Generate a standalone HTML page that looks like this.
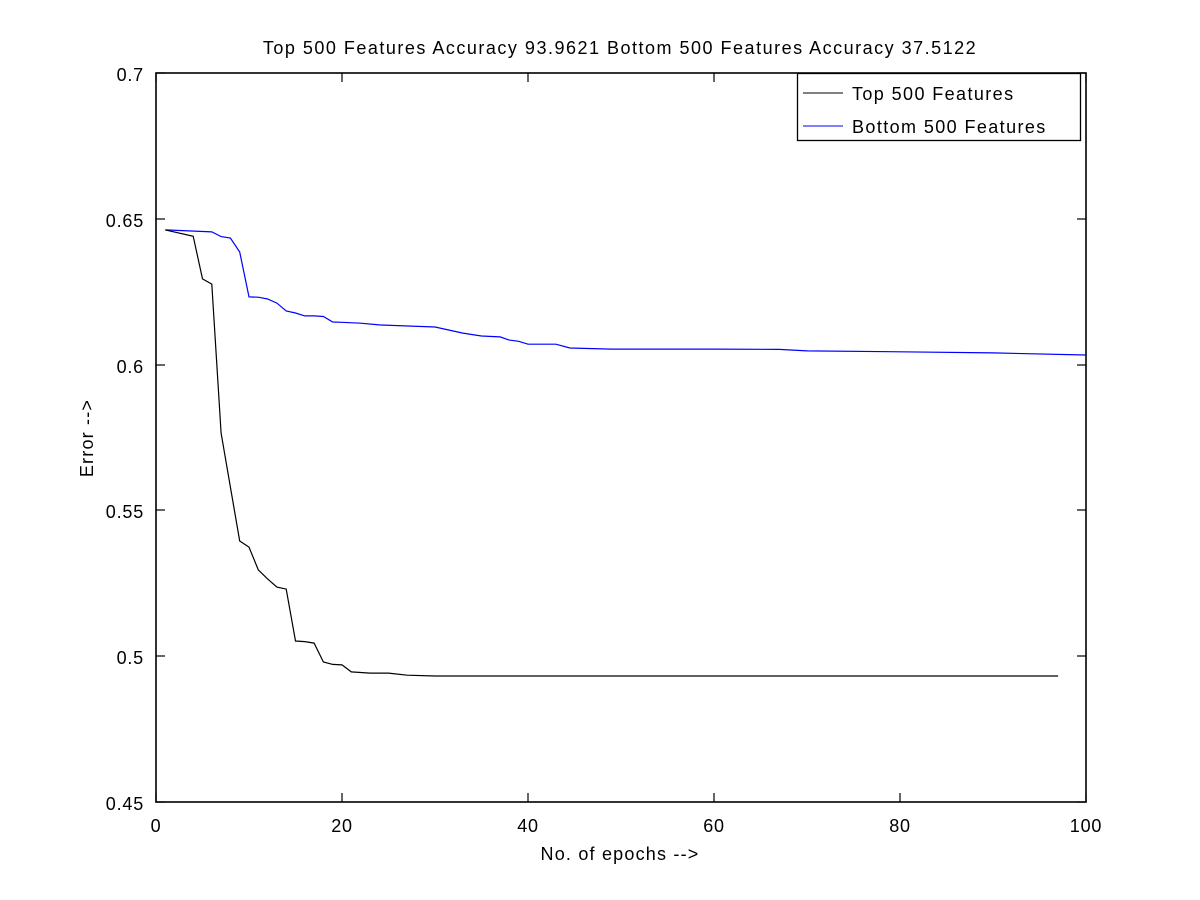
<!DOCTYPE html>
<html><head><meta charset="utf-8"><style>
html,body{margin:0;padding:0;background:#fff;}
svg{display:block;font-family:"Liberation Sans",sans-serif;}
</style></head><body>
<svg id="chart" width="1200" height="900">
<rect x="0" y="0" width="1200" height="900" fill="#fff"/>
<text x="620" y="54" font-size="18" letter-spacing="1.5" text-anchor="middle">Top 500 Features Accuracy 93.9621 Bottom 500 Features Accuracy 37.5122</text>
<g id="axes"></g>
<g id="lines"></g>
<rect x="797.5" y="73.5" width="283" height="67" fill="#fff" stroke="#000" stroke-width="1.3"/>
<line x1="803" y1="93" x2="843" y2="93" stroke="#000"/>
<text x="852" y="100" font-size="18" letter-spacing="1.4">Top 500 Features</text>
<line x1="803" y1="126" x2="843" y2="126" stroke="#00f"/>
<text x="852" y="133" font-size="18" letter-spacing="1.4">Bottom 500 Features</text>
<text x="620" y="860" font-size="18" letter-spacing="1.2" text-anchor="middle">No. of epochs --&gt;</text>
<text x="93" y="438" font-size="18" letter-spacing="1.2" text-anchor="middle" transform="rotate(-90 93 438)">Error --&gt;</text>
</svg>
<script>
const xTicks=[0,20,40,60,80,100];
const yTicks=[0.45,0.5,0.55,0.6,0.65,0.7];
const yTickLabels=["0.45","0.5","0.55","0.6","0.65","0.7"];
const topEpochs=[1,4,5,6,7,8,9,10,11,12,13,14,15,16,17,18,19,20,21,22,23,25,27,30,40,60,80,97];
const topValues=[0.6462,0.644,0.6294,0.6276,0.5765,0.558,0.5395,0.5374,0.5296,0.5265,0.5237,0.523,0.5052,0.505,0.5045,0.498,0.4972,0.497,0.4946,0.4944,0.4942,0.4942,0.4935,0.4932,0.4932,0.4932,0.4932,0.4932];
const bottomEpochs=[1,6,7,8,9,10,11,12,13,14,15,16,17,18,19,20,22,24,30,33,35,37,38,39,40,43,44.5,49,60,67,70,80,90,100];
const bottomValues=[0.6462,0.6455,0.6439,0.6434,0.6386,0.6232,0.6231,0.6225,0.6211,0.6184,0.6177,0.6167,0.6167,0.6165,0.6146,0.6145,0.6142,0.6136,0.6129,0.6108,0.6098,0.6095,0.6084,0.608,0.607,0.607,0.6057,0.6053,0.6053,0.6052,0.6047,0.6044,0.604,0.6033];
const X0=156,X1=1086,Y0=802,Y1=73;
const xs=v=>X0+(v-0)/(100-0)*(X1-X0);
const ys=v=>Y0-(v-0.45)/(0.7-0.45)*(Y0-Y1);
const NS="http://www.w3.org/2000/svg";
const axes=document.getElementById('axes'),lines=document.getElementById('lines');
function mk(tag,attrs,parent){const e=document.createElementNS(NS,tag);for(const k in attrs)e.setAttribute(k,attrs[k]);parent.appendChild(e);return e;}
const frame=mk('rect',{x:X0,y:Y1,width:X1-X0,height:Y0-Y1,fill:'none',stroke:'#000','stroke-width':1.6},axes);


xTicks.forEach(t=>{const x=Math.round(xs(t));
 mk('line',{x1:x,y1:Y0,x2:x,y2:Y0-9,stroke:'#000','stroke-width':1.2},axes);
 mk('line',{x1:x,y1:Y1,x2:x,y2:Y1+9,stroke:'#000','stroke-width':1.2},axes);
 const tx=mk('text',{x:x,y:Y0+30,'font-size':18,'letter-spacing':0.8,'text-anchor':'middle'},axes);tx.textContent=t;
 
 });
yTicks.forEach((t,i)=>{const y=Math.round(ys(t));
 mk('line',{x1:X0,y1:y,x2:X0+9,y2:y,stroke:'#000','stroke-width':1.2},axes);
 mk('line',{x1:X1,y1:y,x2:X1-9,y2:y,stroke:'#000','stroke-width':1.2},axes);
 const tx=mk('text',{x:X0-12,y:y+8,'font-size':18,'letter-spacing':0.8,'text-anchor':'end'},axes);tx.textContent=yTickLabels[i];
 
 });
function path(ex,vals,color,name){const d=ex.map((e,i)=>(i?'L':'M')+xs(e).toFixed(1)+' '+ys(vals[i]).toFixed(1)).join(' ');
 const p=mk('path',{d:d,fill:'none',stroke:color,'stroke-width':1.2},lines);
 
 }
path(bottomEpochs,bottomValues,'#00f','bottom-500-line');
path(topEpochs,topValues,'#000','top-500-line');
</script>
</body></html>
